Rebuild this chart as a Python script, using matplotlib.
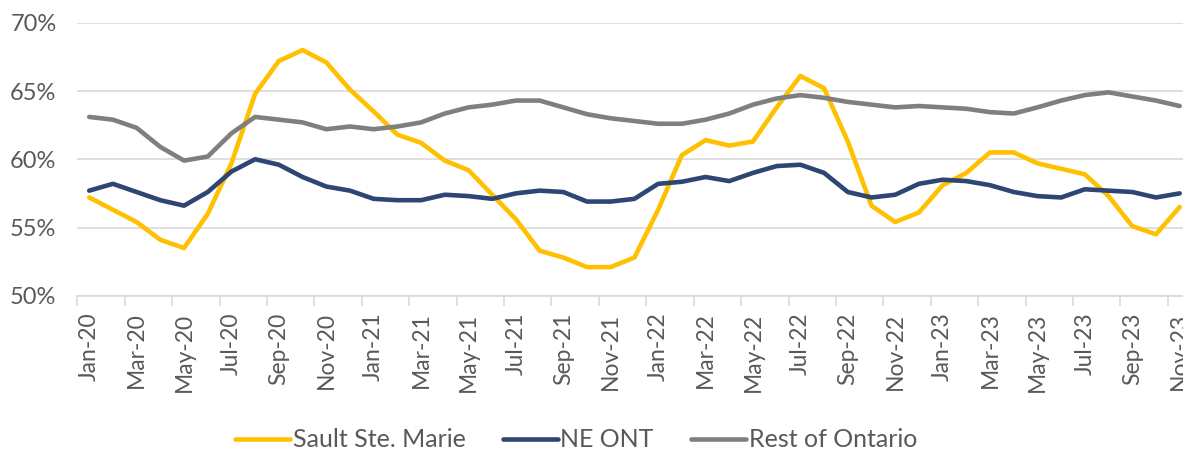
import matplotlib
matplotlib.use('Agg')
from matplotlib import pyplot as plt
from matplotlib.ticker import FixedLocator

plt.rcParams['font.family'] = ['Lato', 'DejaVu Sans']

months = ['Jan', 'Feb', 'Mar', 'Apr', 'May', 'Jun', 'Jul', 'Aug', 'Sep', 'Oct', 'Nov', 'Dec']
labels = []
for yr in ['20', '21', '22', '23']:
	for m in months:
		labels.append(m + '-' + yr)
labels = labels[:47]  # Jan-20 .. Nov-23

sault = [57.2, 56.3, 55.4, 54.1, 53.5, 56.0, 59.7, 64.8, 67.2, 68.0, 67.1, 65.1,
	63.5, 61.8, 61.2, 59.9, 59.2, 57.4, 55.6, 53.3, 52.8, 52.1, 52.1, 52.8,
	56.3, 60.3, 61.4, 61.0, 61.3, 63.8, 66.1, 65.2, 61.3, 56.6, 55.4, 56.1,
	58.1, 59.0, 60.5, 60.5, 59.7, 59.3, 58.9, 57.3, 55.1, 54.5, 56.5]
ne_ont = [57.7, 58.2, 57.6, 57.0, 56.6, 57.6, 59.1, 60.0, 59.6, 58.7, 58.0, 57.7,
	57.1, 57.0, 57.0, 57.4, 57.3, 57.1, 57.5, 57.7, 57.6, 56.9, 56.9, 57.1,
	58.2, 58.35, 58.7, 58.4, 59.0, 59.5, 59.6, 59.0, 57.6, 57.2, 57.4, 58.2,
	58.5, 58.4, 58.1, 57.6, 57.3, 57.2, 57.8, 57.7, 57.6, 57.2, 57.5]
rest_ont = [63.1, 62.9, 62.3, 60.9, 59.9, 60.2, 61.9, 63.1, 62.9, 62.7, 62.2, 62.4,
	62.2, 62.4, 62.7, 63.35, 63.8, 64.0, 64.3, 64.3, 63.8, 63.3, 63.0, 62.8,
	62.6, 62.6, 62.9, 63.35, 64.0, 64.45, 64.7, 64.5, 64.2, 64.0, 63.8, 63.9,
	63.8, 63.7, 63.45, 63.35, 63.8, 64.3, 64.7, 64.9, 64.6, 64.3, 63.9]

x = list(range(len(labels)))

fig = plt.figure(figsize=(11.83, 4.55), dpi=100)
ax = fig.add_axes([0.0654, 0.35, 0.9418, 0.60])

ax.plot(x, sault, color='#FFC000', lw=3.3, label='Sault Ste. Marie', solid_capstyle='round', solid_joinstyle='round')
ax.plot(x, ne_ont, color='#2E4673', lw=3.3, label='NE ONT', solid_capstyle='round', solid_joinstyle='round')
ax.plot(x, rest_ont, color='#7F7F7F', lw=3.3, label='Rest of Ontario', solid_capstyle='round', solid_joinstyle='round')

ax.set_xlim(-0.5, 46.5)
ax.set_ylim(50, 70)
ax.set_yticks([50, 55, 60, 65, 70])
ax.set_yticklabels(['%d%%' % v for v in [50, 55, 60, 65, 70]], fontsize=17, color='#595959')
ax.yaxis.grid(True, color='#D9D9D9', lw=1.2)
ax.set_axisbelow(True)

ax.set_xticks(x[::2])
ax.set_xticklabels(labels[::2], rotation=90, fontsize=16.5, color='#595959')
ax.xaxis.set_minor_locator(FixedLocator([i - 0.5 for i in x[::2]] + [46.5]))
ax.tick_params(axis='x', which='major', length=0, pad=12)
ax.tick_params(axis='x', which='minor', length=7, color='#D9D9D9', width=1.2)
ax.tick_params(axis='y', length=0, pad=15)

for s in ['top', 'right', 'left']:
	ax.spines[s].set_visible(False)
ax.spines['bottom'].set_color('#D9D9D9')
ax.spines['bottom'].set_linewidth(1.2)

fig.legend(loc='center', bbox_to_anchor=(0.487, 0.033), ncol=3, frameon=False,
	fontsize=18, handlelength=2.2, handletextpad=0.1, columnspacing=1.5, labelcolor='#595959')

plt.savefig('out.png', dpi=100)
